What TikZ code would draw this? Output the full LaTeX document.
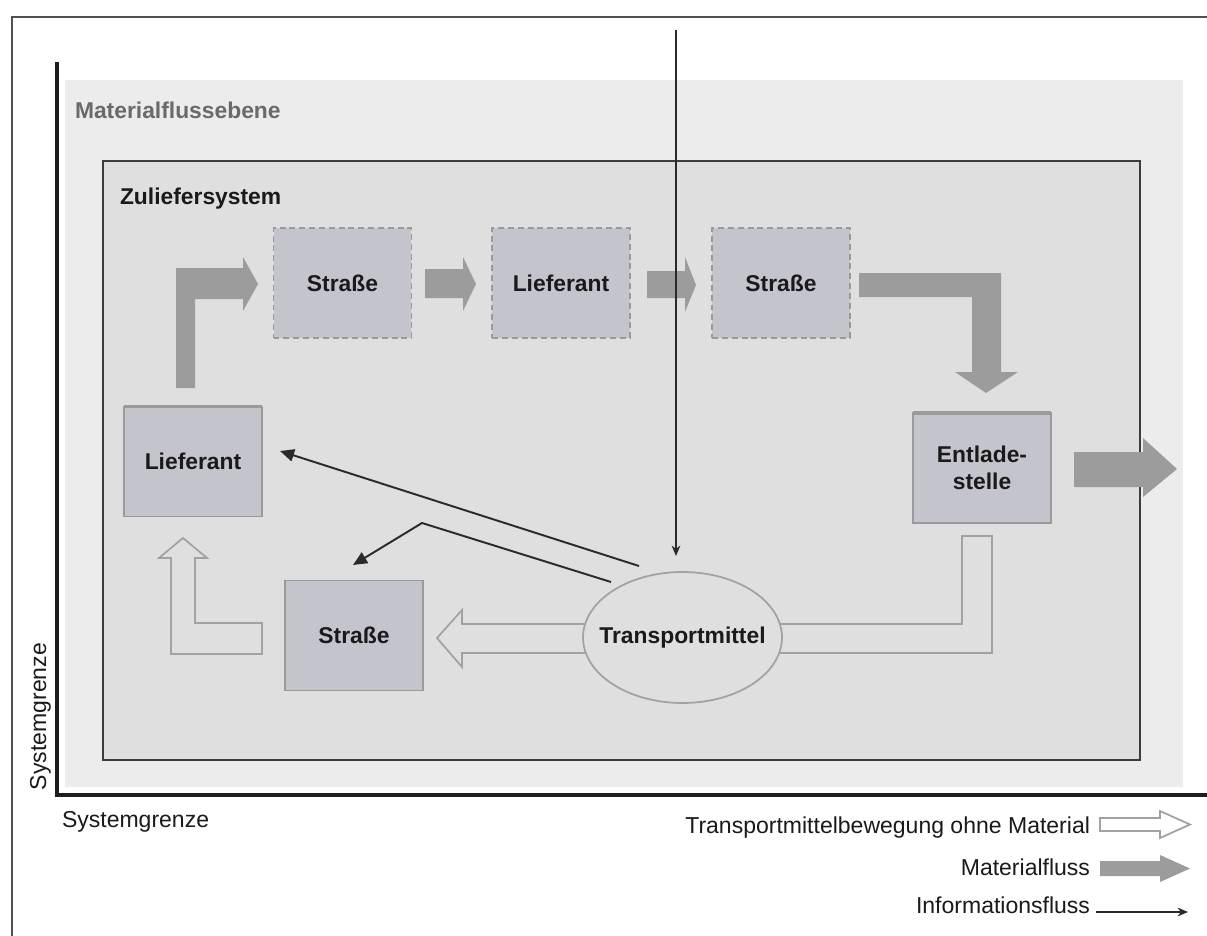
\documentclass[tikz,border=0pt]{standalone}
\usepackage{fontspec}
\setmainfont{Liberation Sans}
\usetikzlibrary{shapes.geometric,arrows.meta}

\definecolor{frameline}{HTML}{505050}
\definecolor{boundline}{HTML}{1E1E1E}
\definecolor{planefill}{HTML}{ECECEC}
\definecolor{sysfill}{HTML}{DFDFDF}
\definecolor{sysline}{HTML}{3C3C3C}
\definecolor{boxfill}{HTML}{C4C4CC}
\definecolor{boxline}{HTML}{9A9A9A}
\definecolor{matgray}{HTML}{9C9C9C}
\definecolor{emptyline}{HTML}{A2A2A2}
\definecolor{infoline}{HTML}{2A2A2A}
\definecolor{planetext}{HTML}{6A6A6A}
\definecolor{textdark}{HTML}{1A1A1A}

\begin{document}
\begin{tikzpicture}[x=0.02cm,y=-0.02cm,
  txt/.style={inner sep=0pt,outer sep=0pt,text=textdark,font=\fontsize{13.1}{15.3}\selectfont},
  boldtxt/.style={txt,font=\fontsize{13}{15.3}\selectfont\bfseries},
  stationbox/.style={boldtxt,rectangle,fill=boxfill,minimum width=2.76cm,minimum height=2.2cm,align=center},
  dashedbox/.style={stationbox,draw=boxline,line width=0.9pt,dash pattern=on 3.4pt off 2.2pt},
  solidbox/.style={stationbox,draw=boxline,line width=1.1pt},
  matflow/.style={fill=matgray,draw=none},
  emptymove/.style={draw=emptyline,line width=1pt,line join=miter},
  info/.style={draw=infoline,line width=1.1pt,-{Triangle[length=8pt,width=7pt]}},
  infothin/.style={draw=infoline,line width=0.85pt,-{Stealth[length=6pt,width=5pt]}}
]
\useasboundingbox (0,0) rectangle (1207,936);
\fill[white] (0,0) rectangle (1207,936);

% outer frame (open to the right and bottom)
\draw[frameline,line width=1.2pt] (12,936) -- (12,17) -- (1207,17);

% material flow plane
\fill[planefill] (65,80) rectangle (1183,787);
\node[boldtxt,text=planetext,anchor=base west] (planelabel) at (75,118) {Materialflussebene};

% system boundary
\draw[boundline,line width=2.3pt] (57,62) -- (57,795) -- (1207,795);
\node[txt,rotate=90,anchor=base west] (sgv) at (46,790) {Systemgrenze};
\node[txt,anchor=base west] (sgh) at (62,827) {Systemgrenze};

% supplier system
\draw[sysline,fill=sysfill,line width=1.2pt] (103,161) rectangle (1140,760);
\node[boldtxt,anchor=base west] (syslabel) at (120,204) {Zuliefersystem};

% material flow arrows
\fill[matflow] (176,388) -- (176,268) -- (243,268) -- (243,257) -- (258,284) -- (243,311) -- (243,299) -- (195,299) -- (195,388) -- cycle;
\fill[matflow] (425,269) -- (463,269) -- (463,257) -- (476,284) -- (463,311) -- (463,298) -- (425,298) -- cycle;
\fill[matflow] (647,271) -- (685,271) -- (685,257) -- (696,285) -- (685,312) -- (685,298) -- (647,298) -- cycle;
\fill[matflow] (859,273) -- (1001,273) -- (1001,372) -- (1018,372) -- (986,393) -- (955,372) -- (972,372) -- (972,297) -- (859,297) -- cycle;
\fill[matflow] (1074,452) -- (1143,452) -- (1143,438) -- (1177,469) -- (1143,497) -- (1143,487) -- (1074,487) -- cycle;

% stations
\node[dashedbox] (road1) at (342.5,283) {Straße};
\node[dashedbox] (supp1) at (561,283) {Lieferant};
\node[dashedbox] (road2) at (781,283) {Straße};
\node[solidbox] (supp0) at (193,461.5) {Lieferant};
\node[solidbox] (road3) at (354,635.5) {Straße};
\node[solidbox] (unload) at (982,468) {Entlade-\\stelle};
\draw[boxline,line width=2pt] (supp0.north west) -- (supp0.north east);
\draw[boxline,line width=2pt] (unload.north west) -- (unload.north east);

% transport vehicle: outline and its label
\node[ellipse,draw=emptyline,line width=1pt,fill=sysfill,inner sep=0pt,minimum width=3.98cm,minimum height=2.62cm] (vehicle) at (682.5,637.5) {};
\node[boldtxt] (vehiclelabel) at (vehicle.center) {Transportmittel};

% movements without material
\draw[emptymove] (780,624) -- (962,624) -- (962,536) -- (992,536) -- (992,653) -- (780,653);
\draw[emptymove] (585,624) -- (462,624) -- (462,610) -- (437,638) -- (462,667) -- (462,653) -- (585,653);
\draw[emptymove] (262,623) -- (195,623) -- (195,558) -- (207,558) -- (183,538) -- (159,558) -- (171,558) -- (171,654) -- (262,654) -- cycle;

% information flow
\coordinate (infotop) at (676,30);
\coordinate (infotip) at (676,556);
\coordinate (vehA) at (639,566);
\coordinate (vehB) at (611,582);
\coordinate (bend) at (422,523);
\coordinate (suppIn) at (280,451);
\coordinate (roadIn) at (353,565);
\draw[info] (vehA) -- (suppIn);
\draw[info] (vehB) -- (bend) -- (roadIn);
\draw[infothin] (infotop) -- (infotip);

% legend
\node[txt,anchor=base east] (legA) at (1090,833) {Transportmittelbewegung ohne Material};
\node[txt,anchor=base east] (legB) at (1090,875) {Materialfluss};
\node[txt,anchor=base east] (legC) at (1090,913) {Informationsfluss};
\draw[emptymove,fill=white] (1100,818) -- (1160,818) -- (1160,811) -- (1190,824.5) -- (1160,838) -- (1160,831) -- (1100,831) -- cycle;
\fill[matflow] (1100,861) -- (1160,861) -- (1160,855) -- (1190,868.5) -- (1160,882) -- (1160,876) -- (1100,876) -- cycle;
\coordinate (legCa) at (1096,912);
\coordinate (legCb) at (1188,912);
\draw[infothin] (legCa) -- (legCb);
\end{tikzpicture}
\end{document}
